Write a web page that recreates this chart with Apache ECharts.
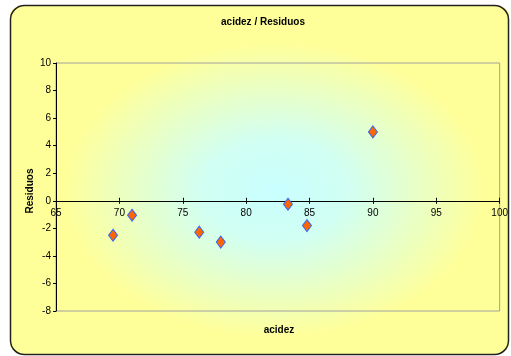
<!DOCTYPE html>
<html><head><meta charset="utf-8">
<script src="https://cdn.jsdelivr.net/npm/echarts@6/dist/echarts.min.js"></script>
<style>html,body{margin:0;padding:0;background:#fff}#c{width:511px;height:356px}</style>
</head><body><div id="c"></div>
<script>
const acidez = [69.5, 71.0, 76.3, 78.0, 83.3, 84.8, 90.0];
const residuos = [-2.5, -1.05, -2.28, -3.0, -0.25, -1.8, 5.0];
const xTicks = {min: 65, max: 100, interval: 5};
const yTicks = {min: -8, max: 10, interval: 2};
const titleText = 'acidez / Residuos';
const xName = 'acidez';
const yName = 'Residuos';

const GRID = {left: 56, right: 9, top: 63, bottom: 45};
const gridH = 356 - GRID.top - GRID.bottom;
const zeroFromBottom = gridH * (0 - yTicks.min) / (yTicks.max - yTicks.min);
const zeroFromTop = gridH - zeroFromBottom;

const chart = echarts.init(document.getElementById('c'), null, {renderer: 'canvas'});
const FONT = '"Liberation Sans", Arial, sans-serif';
chart.setOption({
  animation: false,
  graphic: [
    {type: 'rect', z: -10, x: 259.5, y: 179.5, scaleX: 499 / 349, scaleY: 1,
     shape: {x: -174.5, y: -174.5, width: 349, height: 349, r: 10},
     style: {fill: {type: 'radial', x: 0.53, y: 0.53, r: 0.5,
       colorStops: [{offset: 0, color: '#C8FFFF'}, {offset: 0.3, color: '#D2FFF2'}, {offset: 0.85, color: '#FFFF99'}, {offset: 1, color: '#FFFF99'}]}}},
    {type: 'rect', z: 100, shape: {x: 10.5, y: 5.5, width: 498, height: 349, r: 14},
     style: {fill: null, stroke: '#222', lineWidth: 1.5}},
    {type: 'text', z: 100, x: 263, y: 22, style: {text: titleText, font: 'bold 10px ' + FONT, fill: '#000', align: 'center', verticalAlign: 'middle'}},
    {type: 'text', z: 100, x: 279, y: 330, style: {text: xName, font: 'bold 10px ' + FONT, fill: '#000', align: 'center', verticalAlign: 'middle'}},
    {type: 'text', z: 100, x: 30, y: 191, rotation: Math.PI / 2, style: {text: yName, font: 'bold 10px ' + FONT, fill: '#000', align: 'center', verticalAlign: 'middle'}}
  ],
  grid: Object.assign({show: true, borderColor: '#A0A0A0', borderWidth: 1, backgroundColor: 'transparent'}, GRID),
  xAxis: [
    {type: 'value', min: xTicks.min, max: xTicks.max, interval: xTicks.interval, position: 'bottom',
     offset: -zeroFromBottom,
     axisLine: {show: true, onZero: false, lineStyle: {color: '#000', width: 1}},
     axisTick: {show: true, inside: false, length: 3, lineStyle: {color: '#000'}},
     axisLabel: {show: true, color: '#000', fontSize: 10, fontFamily: FONT, margin: 7, showMinLabel: true, showMaxLabel: true},
     splitLine: {show: false}},
    {type: 'value', min: xTicks.min, max: xTicks.max, interval: xTicks.interval, position: 'top',
     offset: -zeroFromTop,
     axisLine: {show: false, onZero: false},
     axisTick: {show: true, inside: false, length: 3, lineStyle: {color: '#000'}},
     axisLabel: {show: false}, splitLine: {show: false}}
  ],
  yAxis: {type: 'value', min: yTicks.min, max: yTicks.max, interval: yTicks.interval,
    axisLine: {show: true, onZero: false, lineStyle: {color: '#000', width: 1}},
    axisTick: {show: true, length: 3, lineStyle: {color: '#000'}},
    axisLabel: {color: '#000', fontSize: 10, fontFamily: FONT, margin: 5},
    splitLine: {show: false}},
  series: [{
    type: 'scatter', xAxisIndex: 0, yAxisIndex: 0,
    symbol: 'diamond', symbolSize: [9, 12],
    itemStyle: {color: '#FF6600', borderColor: '#3366FF', borderWidth: 1, opacity: 1},
    data: acidez.map((a, i) => [a, residuos[i]])
  }]
});
</script></body></html>
